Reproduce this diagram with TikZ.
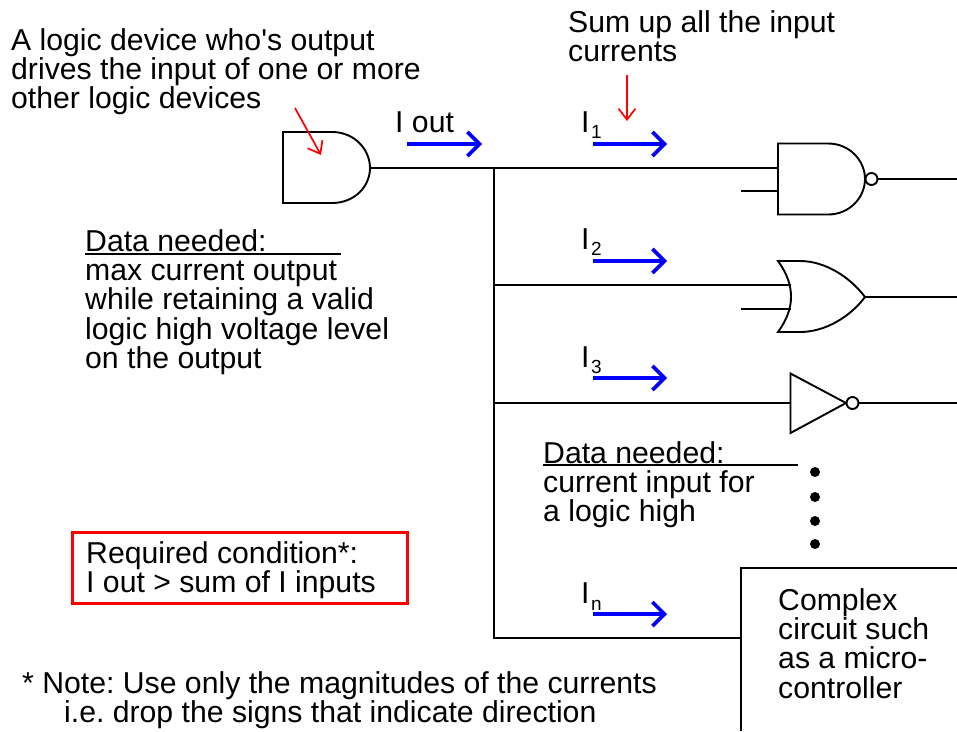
\documentclass[tikz,border=0pt]{standalone}
\usepackage{fontspec}
\newfontfamily\plainsans{Liberation Sans}
\usetikzlibrary{arrows.meta}
\definecolor{cblue}{RGB}{0,0,255}
\definecolor{cred}{RGB}{255,0,0}
\tikzset{
  x=1pt,y=-1pt,
  wire/.style={line width=1.9pt,black},
  gate/.style={line width=1.9pt,black,line join=miter},
  current/.style={line width=3.6pt,cblue,-{Straight Barb[length=12pt,width=24pt,line width=3.6pt]}},
  pointer/.style={line width=1.7pt,cred,-{Straight Barb[length=11pt,width=17pt,line width=1.7pt]}},
  txt/.style={inner sep=0pt,anchor=north west,align=left,font=\plainsans\frenchspacing\fontsize{30.2}{29.4}\selectfont},
  sub/.style={inner sep=0pt,anchor=base west,font=\plainsans\fontsize{19}{20}\selectfont},
  rule/.style={line width=1.5pt,black},
  dotn/.style={circle,fill=black,inner sep=0pt,minimum size=10pt},
  bubble/.style={circle,draw=black,line width=1.9pt,fill=white,inner sep=0pt,minimum size=12pt},
}
\begin{document}
\begin{tikzpicture}
\useasboundingbox (0,0) rectangle (957,731);
% named points
\coordinate (srcout) at (370,168);
\coordinate (j1) at (494,168);
\coordinate (j2) at (494,285);
\coordinate (j3) at (494,403);
\coordinate (j4) at (494,638);
\coordinate (nandinA) at (778,168);
\coordinate (nandinBs) at (741,191);
\coordinate (nandinB) at (778,191);
\coordinate (orinA) at (791,285);
\coordinate (orinBs) at (741,309);
\coordinate (orinB) at (791,309);
\coordinate (orout) at (865,297);
\coordinate (oroute) at (957,297);
\coordinate (nandoute) at (957,179);
\coordinate (invin) at (790,403);
\coordinate (invoute) at (957,403);
\coordinate (boxin) at (741,638);
% wires
\draw[wire] (srcout) -- (j1) -- (nandinA);
\draw[wire] (j1) -- (j2) -- (j3) -- (j4) -- (boxin);
\draw[wire] (j2) -- (orinA);
\draw[wire] (j3) -- (invin);
\draw[wire] (nandinBs) -- (nandinB);
\draw[wire] (orinBs) -- (orinB);
% source gate
\draw[gate] (283,132) -- (332,132) .. controls (355,132) and (370,150) .. (370,168)
  .. controls (370,186) and (355,203) .. (332,203) -- (283,203) -- cycle;
% NAND
\draw[gate] (778,143.5) -- (828,143.5) .. controls (850,143.5) and (865,161) .. (865,179)
  .. controls (865,197) and (850,214.5) .. (828,214.5) -- (778,214.5) -- cycle;
\node[bubble] (nandb) at (871.5,179) {};
\draw[wire] (nandb) -- (nandoute);
% OR
\draw[gate] (778,261) -- (800,261) .. controls (825,261) and (850,277) .. (865,297)
  .. controls (850,317) and (825,332) .. (800,332) -- (778,332)
  .. controls (788,318) and (791,307) .. (791,297) .. controls (791,286) and (788,275) .. (778,261) -- cycle;
\draw[wire] (orout) -- (oroute);
% inverter
\draw[gate] (790.5,373.5) -- (846,403) -- (790.5,433) -- cycle;
\node[bubble] (invb) at (852.5,403) {};
\draw[wire] (invb) -- (invoute);
% box
\draw[wire] (957,568) -- (741,568) -- (741,731);
% currents
\coordinate (a0) at (407,144); \coordinate (b0) at (482,144);
\coordinate (a1) at (593,144); \coordinate (b1) at (667,144);
\coordinate (a2) at (593,261); \coordinate (b2) at (667,261);
\coordinate (a3) at (593,378); \coordinate (b3) at (667,378);
\coordinate (a4) at (593,614); \coordinate (b4) at (667,614);
\draw[current] (a0) -- (b0);
\draw[current] (a1) -- (b1);
\draw[current] (a2) -- (b2);
\draw[current] (a3) -- (b3);
\draw[current] (a4) -- (b4);
% pointers
\coordinate (p1s) at (295,108); \coordinate (p1e) at (321,155);
\coordinate (p2s) at (627,75); \coordinate (p2e) at (627,121);
\draw[pointer] (p1s) -- (p1e);
\draw[pointer] (p2s) -- (p2e);
% rules
\coordinate (r1s) at (85,254); \coordinate (r1e) at (341,254);
\coordinate (r2s) at (543,465); \coordinate (r2e) at (798,465);
\draw[rule] (r1s) -- (r1e);
\draw[rule] (r2s) -- (r2e);
% dots
\node[dotn] (d1) at (815,472) {};
\node[dotn] (d2) at (815,497) {};
\node[dotn] (d3) at (815,521) {};
\node[dotn] (d4) at (815,544) {};
% text
\node[txt] (t1) at (11,28) {A logic device who's output\\drives the input of one or more\\other logic devices};
\node[txt] (t2) at (568,10) {Sum up all the input\\currents};
\node[txt] (t3) at (395,112) {I out};
\node[txt] (t4) at (85,229) {Data needed:\\max current output\\while retaining a valid\\logic high voltage level\\on the output};
\node[txt] (t5) at (543,441) {Data needed:\\current input for\\a logic high};
\node[txt] (t6) at (86,541) {Required condition*:\\I out > sum of I inputs};
\node[txt] (t7) at (778,588) {Complex\\circuit such\\as a micro-\\controller};
\node[txt] (t8) at (22,671) {* Note: Use only the magnitudes of the currents\\\hspace*{42pt}i.e. drop the signs that indicate direction};
\node[txt] (i1) at (581,112) {I};
\node[sub] at (591,138) {1};
\node[txt] (i2) at (581,229) {I};
\node[sub] at (591,255) {2};
\node[txt] (i3) at (581,347) {I};
\node[sub] at (591,373) {3};
\node[txt] (i4) at (581,583) {I};
\node[sub] at (591,610) {n};
\node[draw=cred,line width=3pt,minimum width=335pt,minimum height=71pt,anchor=north west,inner sep=0pt] (cond) at (71,531) {};
\end{tikzpicture}
\end{document}
